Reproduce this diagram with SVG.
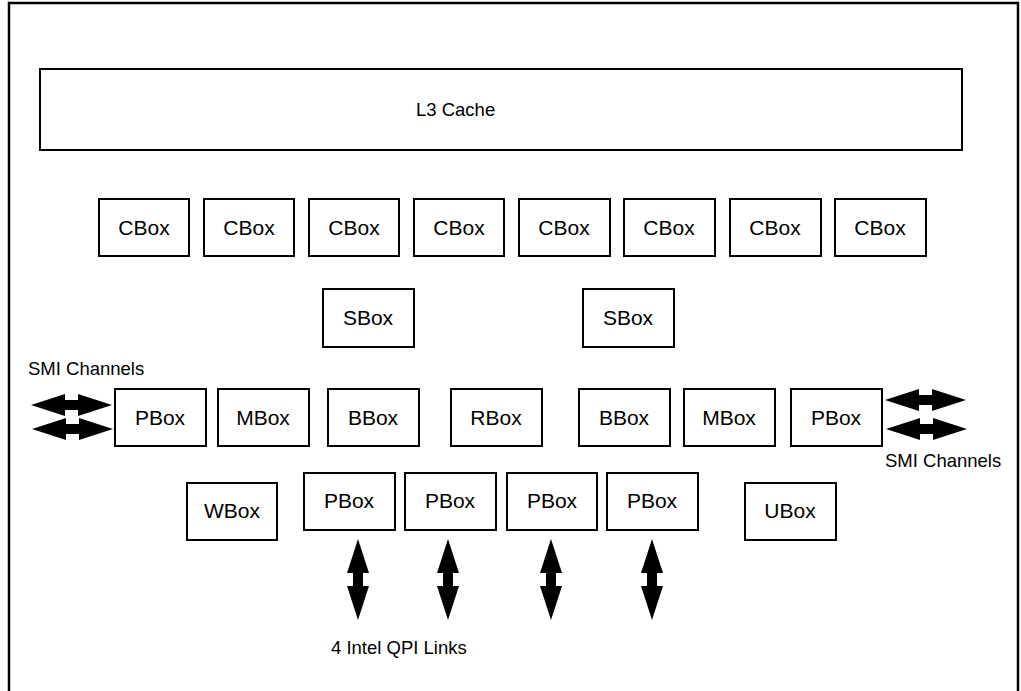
<svg xmlns="http://www.w3.org/2000/svg" width="1021" height="691" viewBox="0 0 1021 691">
<style>
.box{fill:#fff;stroke:#000;stroke-width:2}
.lbl{font-family:"Liberation Sans",Arial,sans-serif;font-size:21px;text-anchor:middle;fill:#000}
.cap{font-family:"Liberation Sans",Arial,sans-serif;font-size:18.5px;fill:#000}
.arr{fill:#000}
</style>
<defs>
<path id="va" d="M0,0 L11,34 L5,34 L5,47 L11,47 L0,81 L-11,47 L-5,47 L-5,34 L-11,34 Z"/>
</defs>
<rect width="1021" height="691" fill="#fff"/>
<path d="M9,695 V3 H1018 V695" fill="none" stroke="#000" stroke-width="2.5"/>
<g id="l3"><rect class="box" x="40" y="69" width="922" height="81"/><text class="cap" x="416" y="116">L3 Cache</text></g>
<g id="cbox1"><rect class="box" x="99" y="199" width="90" height="57"/><text class="lbl" x="144" y="235">CBox</text></g>
<g id="cbox2"><rect class="box" x="204" y="199" width="90" height="57"/><text class="lbl" x="249" y="235">CBox</text></g>
<g id="cbox3"><rect class="box" x="309" y="199" width="90" height="57"/><text class="lbl" x="354" y="235">CBox</text></g>
<g id="cbox4"><rect class="box" x="414" y="199" width="90" height="57"/><text class="lbl" x="459" y="235">CBox</text></g>
<g id="cbox5"><rect class="box" x="519" y="199" width="91" height="57"/><text class="lbl" x="564" y="235">CBox</text></g>
<g id="cbox6"><rect class="box" x="624" y="199" width="91" height="57"/><text class="lbl" x="669" y="235">CBox</text></g>
<g id="cbox7"><rect class="box" x="730" y="199" width="91" height="57"/><text class="lbl" x="775" y="235">CBox</text></g>
<g id="cbox8"><rect class="box" x="835" y="199" width="91" height="57"/><text class="lbl" x="880" y="235">CBox</text></g>
<g id="sbox1"><rect class="box" x="323" y="289" width="91" height="58"/><text class="lbl" x="368" y="325">SBox</text></g>
<g id="sbox2"><rect class="box" x="583" y="289" width="91" height="58"/><text class="lbl" x="628" y="325">SBox</text></g>
<g id="pbox-l"><rect class="box" x="115" y="389" width="91" height="57"/><text class="lbl" x="160" y="425">PBox</text></g>
<g id="mbox-l"><rect class="box" x="218" y="389" width="91" height="57"/><text class="lbl" x="263" y="425">MBox</text></g>
<g id="bbox-l"><rect class="box" x="328" y="389" width="91" height="57"/><text class="lbl" x="373" y="425">BBox</text></g>
<g id="rbox"><rect class="box" x="451" y="389" width="91" height="57"/><text class="lbl" x="496" y="425">RBox</text></g>
<g id="bbox-r"><rect class="box" x="579" y="389" width="91" height="57"/><text class="lbl" x="624" y="425">BBox</text></g>
<g id="mbox-r"><rect class="box" x="684" y="389" width="91" height="57"/><text class="lbl" x="729" y="425">MBox</text></g>
<g id="pbox-r"><rect class="box" x="791" y="389" width="91" height="57"/><text class="lbl" x="836" y="425">PBox</text></g>
<g id="wbox"><rect class="box" x="187" y="483" width="90" height="57"/><text class="lbl" x="232" y="518">WBox</text></g>
<g id="pbox-q1"><rect class="box" x="304" y="473" width="91" height="57"/><text class="lbl" x="349" y="508">PBox</text></g>
<g id="pbox-q2"><rect class="box" x="405" y="473" width="91" height="57"/><text class="lbl" x="450" y="508">PBox</text></g>
<g id="pbox-q3"><rect class="box" x="507" y="473" width="90" height="57"/><text class="lbl" x="552" y="508">PBox</text></g>
<g id="pbox-q4"><rect class="box" x="607" y="473" width="91" height="57"/><text class="lbl" x="652" y="508">PBox</text></g>
<g id="ubox"><rect class="box" x="745" y="483" width="91" height="57"/><text class="lbl" x="790" y="518">UBox</text></g>
<g id="labels">
<text class="cap" x="28" y="375">SMI Channels</text>
<text class="cap" x="885" y="467">SMI Channels</text>
<text class="cap" x="331" y="654">4 Intel QPI Links</text>
</g>
<g id="connectors" class="arr">
<use href="#va" transform="translate(358,539)"/>
<use href="#va" transform="translate(448,539)"/>
<use href="#va" transform="translate(551,539)"/>
<use href="#va" transform="translate(652,539)"/>
<use href="#va" transform="translate(31,405) rotate(-90)"/>
<use href="#va" transform="translate(32,429) rotate(-90)"/>
<use href="#va" transform="translate(885,400) rotate(-90)"/>
<use href="#va" transform="translate(886,429) rotate(-90)"/>
</g>
</svg>
